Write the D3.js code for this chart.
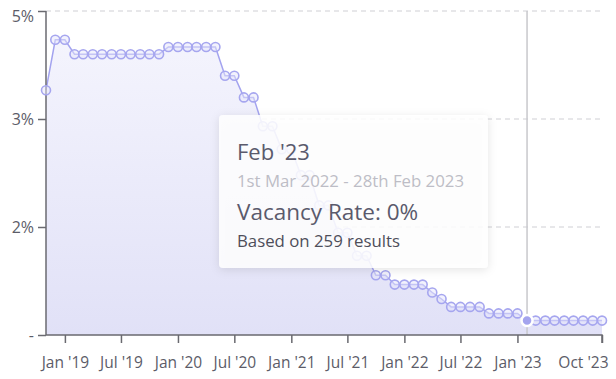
<!DOCTYPE html>
<html>
<head>
<meta charset="utf-8">
<script src="https://cdn.jsdelivr.net/npm/d3@7"></script>
<style>
  body { margin: 0; background: #fff; }
  svg { display: block; font-family: "Open Sans", "Noto Sans", sans-serif; }
</style>
</head>
<body>
<svg width="616" height="379"></svg>
<script>
// monthly vacancy rate, Nov 2018 .. Oct 2023
var months = d3.timeMonths(new Date(2018, 10, 1), new Date(2023, 10, 1));
var rates = [
    3.40,
    4.10, 4.10,
    3.90, 3.90, 3.90, 3.90, 3.90, 3.90, 3.90, 3.90, 3.90, 3.90,
    4.00, 4.00, 4.00, 4.00, 4.00, 4.00,
    3.60, 3.60, 3.30, 3.30, 2.90, 2.90,
    2.58, 2.58, 2.22, 2.22, 1.80, 1.80,
    1.42, 1.42, 1.10, 1.10, 0.83, 0.83,
    0.70, 0.70, 0.70, 0.70, 0.59, 0.50,
    0.39, 0.39, 0.39, 0.39, 0.30, 0.30, 0.30, 0.30,
    0.20, 0.20, 0.20, 0.20, 0.20, 0.20, 0.20, 0.20, 0.20
];
var xTicks = [new Date(2019, 0, 1), new Date(2019, 6, 1), new Date(2020, 0, 1), new Date(2020, 6, 1),
    new Date(2021, 0, 1), new Date(2021, 6, 1), new Date(2022, 0, 1), new Date(2022, 6, 1),
    new Date(2023, 0, 1), new Date(2023, 9, 1)];
var xTickLabels = ["Jan '19", "Jul '19", "Jan '20", "Jul '20", "Jan '21", "Jul '21",
    "Jan '22", "Jul '22", "Jan '23", "Oct '23"];
var yTicks = [0, 1.5, 3, 4.5];
var yTickLabels = ["-", "2%", "3%", "5%"];

var hoverIndex = 51; // Feb '23
var tipTitle = "Feb '23";
var tipRange = "1st Mar 2022 - 28th Feb 2023";
var tipValue = "Vacancy Rate: 0%";
var tipCount = "Based on 259 results";

(function () {
    var data = months.map(function (m, i) { return { date: m, value: rates[i] }; });

    var svg = d3.select("svg"),
        left = 46, right = 602, plotTop = 11, bottom = 335;

    var x = d3.scaleTime()
        .domain([months[0], months[months.length - 1]])
        .range([left, right]);
    var y = d3.scaleLinear().domain([0, 4.5]).range([bottom, plotTop]);

    var defs = svg.append("defs");
    var grad = defs.append("linearGradient")
        .attr("id", "fill").attr("x1", 0).attr("y1", 0).attr("x2", 0).attr("y2", 1);
    grad.append("stop").attr("offset", "0%").attr("stop-color", "#f4f4fd");
    grad.append("stop").attr("offset", "100%").attr("stop-color", "#e1e1f7");

    var shadow = defs.append("filter").attr("id", "shadow")
        .attr("x", "-20%").attr("y", "-20%").attr("width", "140%").attr("height", "140%");
    shadow.append("feDropShadow")
        .attr("dx", 0).attr("dy", 2).attr("stdDeviation", 5)
        .attr("flood-color", "#000").attr("flood-opacity", 0.12);

    // gridlines
    svg.append("g")
        .selectAll("line")
        .data(yTicks.filter(d => d > 0))
        .enter().append("line")
        .attr("x1", left).attr("x2", 600)
        .attr("y1", d => y(d)).attr("y2", d => y(d))
        .attr("stroke", "#cfcfd4")
        .attr("stroke-dasharray", "5,4");

    // area + line
    svg.append("path")
        .datum(data)
        .attr("fill", "url(#fill)")
        .attr("d", d3.area().x(d => x(d.date)).y0(bottom).y1(d => y(d.value)));

    svg.append("path")
        .datum(data)
        .attr("fill", "none")
        .attr("stroke", "#a3a3ef")
        .attr("stroke-width", 1.5)
        .attr("d", d3.line().x(d => x(d.date)).y(d => y(d.value)));

    // hover line
    svg.append("line")
        .attr("x1", x(months[hoverIndex])).attr("x2", x(months[hoverIndex]))
        .attr("y1", plotTop).attr("y2", bottom)
        .attr("stroke", "#c8c8cc").attr("stroke-width", 1.5);

    // axes
    var yAxis = svg.append("g")
        .attr("transform", "translate(" + left + ",0)")
        .call(d3.axisLeft(y).tickValues(yTicks).tickSize(8).tickPadding(4)
            .tickFormat((d, i) => yTickLabels[i]));
    yAxis.selectAll("text")
        .attr("y", d => d === 4.5 ? 5 : 0)
        .attr("font-size", 16).attr("fill", "#5c5c68")
        .attr("font-family", "\"Open Sans\", sans-serif");

    var xAxis = svg.append("g")
        .attr("transform", "translate(0," + bottom + ")")
        .call(d3.axisBottom(x).tickValues(xTicks).tickSize(8).tickPadding(14)
            .tickFormat((d, i) => xTickLabels[i]));
    xAxis.selectAll("text")
        .attr("font-size", 15.5).attr("fill", "#5c5c68")
        .attr("font-family", "\"Open Sans\", sans-serif");
    // last label is pulled inside the chart
    xAxis.selectAll(".tick:last-of-type text")
        .attr("text-anchor", "end").attr("x", 6);
    svg.selectAll(".domain, .tick line").attr("stroke", "#6a6a70").attr("stroke-width", 1.5);
    yAxis.select(".domain").attr("d", "M0," + plotTop + "V" + bottom);
    xAxis.select(".domain").attr("d", "M" + left + ",0H" + right + "V8");

    // points
    svg.append("g")
        .selectAll("circle")
        .data(data.filter((d, i) => i !== hoverIndex))
        .enter().append("circle")
        .attr("cx", d => x(d.date))
        .attr("cy", d => y(d.value))
        .attr("r", 4.5)
        .attr("fill", "rgba(230,230,252,0.5)")
        .attr("stroke", "#a6a6ef")
        .attr("stroke-width", 1.6);

    svg.append("circle")
        .attr("cx", x(months[hoverIndex]))
        .attr("cy", y(rates[hoverIndex]))
        .attr("r", 5.5)
        .attr("fill", "#a4a4ee")
        .attr("stroke", "#fff")
        .attr("stroke-width", 2.5);

    // tooltip
    var tip = svg.append("g").attr("transform", "translate(219,115)");
    tip.append("rect")
        .attr("width", 269).attr("height", 153).attr("rx", 4)
        .attr("fill", "rgba(255,255,255,0.86)")
        .attr("filter", "url(#shadow)");
    tip.append("text").attr("x", 18).attr("y", 45).text(tipTitle)
        .attr("font-size", 22).attr("fill", "#5a5a6c");
    tip.append("text").attr("x", 18).attr("y", 72).text(tipRange)
        .attr("font-size", 16.8).attr("fill", "#bdbdc6");
    tip.append("text").attr("x", 18).attr("y", 105).text(tipValue)
        .attr("font-size", 22.5).attr("fill", "#5a5a6c");
    tip.append("text").attr("x", 18).attr("y", 132).text(tipCount)
        .attr("font-size", 16.8).attr("fill", "#4e4e5a");
})();
</script>
</body>
</html>
